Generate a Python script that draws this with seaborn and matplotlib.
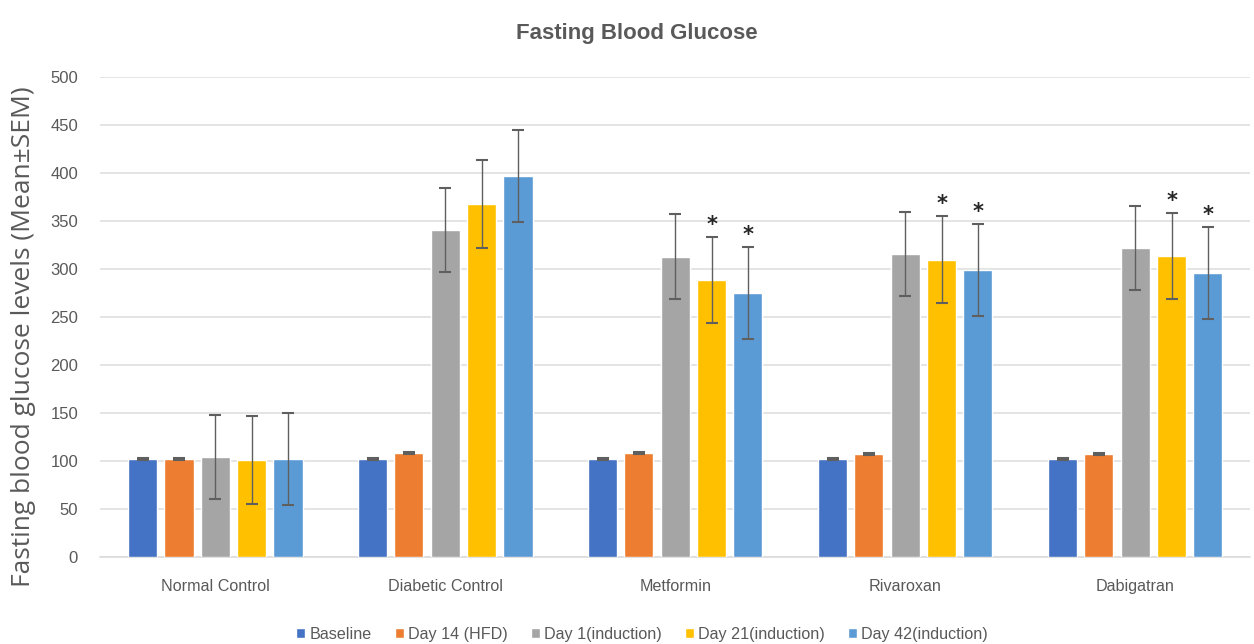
import matplotlib
matplotlib.use("Agg")
import matplotlib.pyplot as plt
import seaborn as sns
import pandas as pd
import numpy as np

# Groups and time points
groups = ["Normal Control", "Diabetic Control", "Metformin", "Rivaroxan", "Dabigatran"]
timepoints = ["Baseline", "Day 14 (HFD)", "Day 1(induction)", "Day 21(induction)", "Day 42(induction)"]

# Mean fasting blood glucose per group, one list per time point
baseline = [102, 102, 102, 102, 102]
day14_hfd = [102, 108, 108, 107, 107]
day1_ind = [104, 341, 313, 316, 322]
day21_ind = [101, 368, 289, 310, 314]
day42_ind = [102, 397, 275, 299, 296]

# SEM per group, one list per time point
sem_baseline = [1, 1, 1, 1, 1]
sem_day14 = [1, 1, 1, 1, 1]
sem_day1 = [44, 44, 44, 44, 44]
sem_day21 = [46, 46, 45, 45, 45]
sem_day42 = [48, 48, 48, 48, 48]

# Significance markers (per time point, per group)
sig_day21 = [False, False, True, True, True]
sig_day42 = [False, False, True, True, True]

colors = ["#4472C4", "#ED7D31", "#A5A5A5", "#FFC000", "#5B9BD5"]

means = [baseline, day14_hfd, day1_ind, day21_ind, day42_ind]
sems = [sem_baseline, sem_day14, sem_day1, sem_day21, sem_day42]
sigs = [[False] * 5, [False] * 5, [False] * 5, sig_day21, sig_day42]

rows = []
for tp, m, s in zip(timepoints, means, sems):
    for g, mv, sv in zip(groups, m, s):
        rows.append({"group": g, "time": tp, "mean": mv, "sem": sv})
df = pd.DataFrame(rows)

sns.set_theme(style="white")
plt.rcParams["font.family"] = ["Liberation Sans", "DejaVu Sans"]

fig = plt.figure(figsize=(12.54, 6.44), dpi=100)
ax = fig.add_axes([0.08, 0.135, 0.917, 0.745])

sns.barplot(data=df, x="group", y="mean", hue="time", order=groups,
            hue_order=timepoints, palette=colors, width=0.79, gap=0.2,
            errorbar=None, saturation=1, ax=ax, legend=True, zorder=3)

# Error bars and significance marks at each bar's centre
for h, tp in enumerate(timepoints):
    container = ax.containers[h]
    for i, bar in enumerate(container.patches):
        xc = bar.get_x() + bar.get_width() / 2
        top = bar.get_height()
        ax.errorbar(xc, top, yerr=sems[h][i], fmt="none", ecolor="#5f5f5f",
                    elinewidth=1.0, capsize=4, capthick=1.5, zorder=4)
        if sigs[h][i]:
            ax.text(xc, top + sems[h][i] + 2, "*", ha="center", va="bottom",
                    fontsize=15, fontweight="bold", color="#262626",
                    family="DejaVu Sans")

ax.set_ylim(0, 500)
ax.set_xlim(-0.5, 4.5)
ax.set_yticks(np.arange(0, 501, 50))
ax.yaxis.grid(True, color="#DCDCDC", linewidth=1.1, zorder=0)
ax.set_axisbelow(True)
for side in ["top", "right", "left"]:
    ax.spines[side].set_visible(False)
ax.spines["bottom"].set_color("#D9D9D9")
ax.spines["bottom"].set_linewidth(1.1)
ax.tick_params(axis="x", length=0, colors="#595959", labelsize=11.6, pad=16)
ax.tick_params(axis="y", length=0, colors="#595959", labelsize=12, pad=16)
ax.set_xlabel("")
ax.set_ylabel("Fasting blood glucose levels (Mean\u00b1SEM)", fontsize=19,
              color="#595959", family=["Open Sans", "DejaVu Sans"])
ax.yaxis.set_label_coords(-0.056, 0.46)

fig.text(0.508, 0.948, "Fasting Blood Glucose", ha="center", va="center",
         fontsize=16, fontweight="bold", color="#595959")

handles, labels = ax.get_legend_handles_labels()
ax.legend(handles, labels, loc="upper center", bbox_to_anchor=(0.471, -0.115),
          ncol=5, frameon=False, fontsize=11.6, handlelength=0.55, handleheight=0.55,
          handletextpad=0.25, columnspacing=1.45, labelcolor="#595959")

fig.savefig("out.png", dpi=100)
